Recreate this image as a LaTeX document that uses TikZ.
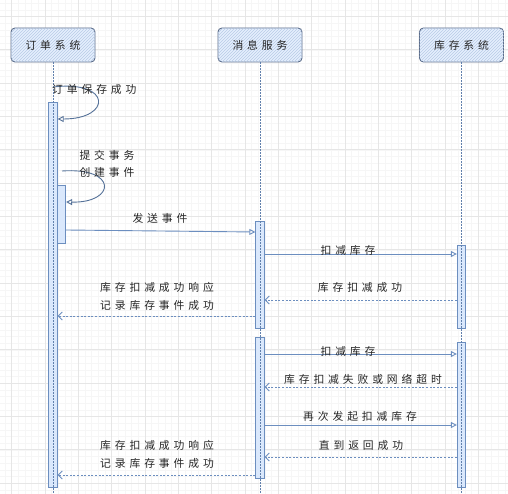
\documentclass[tikz,border=0pt]{standalone}
\usepackage{fontspec}
\newfontfamily\cjk[LetterSpace=36]{Noto Sans CJK SC}
\usetikzlibrary{arrows.meta,patterns}
\definecolor{lineblue}{HTML}{6C8EBF}
\definecolor{fillblue}{HTML}{DAE8FC}
\definecolor{hdrborder}{HTML}{5A6B88}
\definecolor{hatch}{HTML}{B8CBE6}
\definecolor{gridminor}{HTML}{F6F6F6}
\definecolor{gridmajor}{HTML}{E6E6E6}
\begin{document}
\begin{tikzpicture}[x=1pt,y=-1pt,
  every node/.style={font=\cjk\fontsize{10.8}{13}\selectfont, text=black!85},
  hdr/.style={draw=hdrborder, line width=0.9pt, rounded corners=4pt, fill=fillblue!70,
    postaction={pattern=north east lines, pattern color=hatch},
    minimum width=84pt, minimum height=34pt, inner sep=0pt},
  actbar/.style={draw=lineblue, line width=0.8pt, fill=fillblue, minimum width=8.5pt, inner sep=0pt},
  life/.style={draw=lineblue!90!black, line width=0.8pt, dash pattern=on 1.5pt off 1.5pt},
  msg/.style={draw=lineblue, line width=0.9pt, -{Triangle[open,length=6pt,width=6pt]}},
  selfmsg/.style={draw=lineblue!80!black, line width=0.9pt, -{Triangle[open,length=6pt,width=6pt]}},
  ret/.style={draw=lineblue, line width=0.9pt, dash pattern=on 2pt off 1.6pt, -{Straight Barb[length=4pt,width=8pt]}},
  lbl/.style={inner sep=0pt, align=center}]
\useasboundingbox (0,0) rectangle (508,494);
\fill[white] (0,0) rectangle (508,494);
% grid
\foreach \i in {0,...,76} {
  \draw[gridminor, line width=0.4pt] ({-1.8+6.6667*\i},0) -- ({-1.8+6.6667*\i},494);
  \draw[gridminor, line width=0.4pt] (0,{3.07+6.6667*\i}) -- (508,{3.07+6.6667*\i});
}
\foreach \i in {0,...,15} {
  \draw[gridmajor, line width=0.5pt] ({11.5+33.333*\i},0) -- ({11.5+33.333*\i},494);
  \draw[gridmajor, line width=0.5pt] (0,{16.4+33.333*\i}) -- (508,{16.4+33.333*\i});
}
% headers
\node[hdr] (os) at (53,45) {订单系统};
\node[hdr] (ms) at (260,45) {消息服务};
\node[hdr] (is) at (461.5,45) {库存系统};
% activation bars
\node[actbar, minimum height=385pt] (aA1) at (53,294.5) {};
\node[actbar, minimum height=58pt] (aA2) at (61.5,214) {};
\node[actbar, minimum height=107pt] (aB1) at (260,274.5) {};
\node[actbar, minimum height=141pt] (aB2) at (260,407.5) {};
\node[actbar, minimum height=83pt] (aC1) at (461.5,286.5) {};
\node[actbar, minimum height=145pt] (aC2) at (461.5,414.5) {};
% lifelines
\coordinate (osEnd) at (53,494);
\coordinate (msEnd) at (260,494);
\coordinate (isEnd) at (461.5,494);
\draw[life] (os.south) -- (osEnd);
\draw[life] (ms.south) -- (msEnd);
\draw[life] (is.south) -- (isEnd);
% self message 1
\coordinate (s1a) at (53,87);
\draw[selfmsg] (s1a) .. controls (112,80) and (112,119) .. (aA1.east |- 0,119);
\node[lbl, anchor=west] (t1) at (52,89) {订单保存成功};
% self message 2
\coordinate (s2a) at (62,171);
\draw[selfmsg] (s2a) .. controls (118,167) and (116,203) .. (aA2.east |- 0,202);
\node[lbl] (t2) at (107,155) {提交事务};
\node[lbl] (t3) at (107,172) {创建事件};
% send event
\draw[msg] (aA2.east |- 0,230) -- (aB1.west |- 0,232);
\node[lbl] (t4) at (160,218) {发送事件};
% deduct stock 1
\draw[msg] (aB1.east |- 0,254) -- (aC1.west |- 0,254);
\node[lbl] (t5) at (348,250) {扣减库存};
\draw[ret] (aC1.west |- 0,300) -- (aB1.east |- 0,300);
\node[lbl] (t6) at (360,287) {库存扣减成功};
\draw[ret] (aB1.west |- 0,316) -- (aA1.east |- 0,316);
\node[lbl] (t7) at (157,287) {库存扣减成功响应};
\node[lbl] (t8) at (157,305) {记录库存事件成功};
% deduct stock 2
\draw[msg] (aB2.east |- 0,354) -- (aC2.west |- 0,354);
\node[lbl] (t9) at (348,351) {扣减库存};
\draw[ret] (aC2.west |- 0,387) -- (aB2.east |- 0,387);
\node[lbl] (t10) at (363,379) {库存扣减失败或网络超时};
\draw[msg] (aB2.east |- 0,425) -- (aC2.west |- 0,425);
\node[lbl] (t11) at (360,416) {再次发起扣减库存};
\draw[ret] (aC2.west |- 0,457) -- (aB2.east |- 0,457);
\node[lbl] (t12) at (361,445) {直到返回成功};
\draw[ret] (aB2.west |- 0,475) -- (aA1.east |- 0,475);
\node[lbl] (t13) at (157,445) {库存扣减成功响应};
\node[lbl] (t14) at (157,463) {记录库存事件成功};
\end{tikzpicture}
\end{document}
